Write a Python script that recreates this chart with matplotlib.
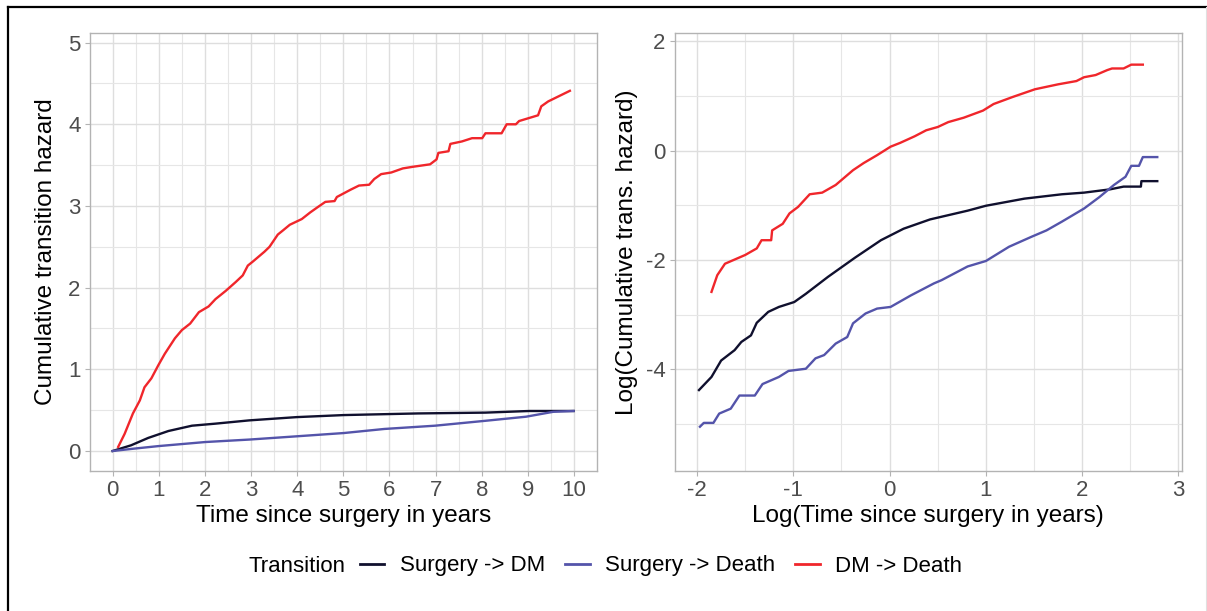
import numpy as np
import matplotlib
matplotlib.use("Agg")
import matplotlib.pyplot as plt
from matplotlib.lines import Line2D

plt.rcParams['font.family'] = ['Liberation Sans', 'DejaVu Sans']
plt.rcParams['axes.unicode_minus'] = False

## Data ##
labels = ["Surgery -> DM", "Surgery -> Death", "DM -> Death"]
colors = ["#10102e", "#5454aa", "#f0262b"]

# left panel: cumulative transition hazard vs time (years)
dm_t = [0, 0.40, 0.77, 1.21, 1.72, 2.23, 2.96, 3.99, 5.01, 6.62, 8.08, 9.03, 9.99]
dm_h = [0, 0.07, 0.16, 0.245, 0.31, 0.335, 0.375, 0.415, 0.44, 0.46, 0.47, 0.49, 0.49]

death_t = [0, 0.48, 0.99, 2.01, 2.96, 3.99, 5.01, 5.89, 6.99, 8.08, 8.96, 9.55, 9.99]
death_h = [0, 0.03, 0.06, 0.11, 0.14, 0.18, 0.22, 0.27, 0.31, 0.37, 0.42, 0.48, 0.49]

dmd_t = [0.12, 0.26, 0.44, 0.59, 0.69, 0.84, 0.99, 1.13, 1.35, 1.50, 1.68, 1.87,
         2.08, 2.23, 2.45, 2.67, 2.82, 2.93, 3.04, 3.29, 3.40, 3.58, 3.69, 3.84,
         4.10, 4.28, 4.43, 4.61, 4.81, 4.86, 5.16, 5.34, 5.56, 5.67, 5.82, 6.04,
         6.29, 6.51, 6.88, 7.02, 7.06, 7.28, 7.32, 7.57, 7.79, 8.01, 8.08, 8.43,
         8.54, 8.74, 8.81, 9.22, 9.29, 9.44, 9.91]
dmd_h = [0.05, 0.21, 0.46, 0.62, 0.78, 0.89, 1.05, 1.19, 1.38, 1.48, 1.56, 1.70,
         1.77, 1.86, 1.96, 2.07, 2.15, 2.27, 2.32, 2.44, 2.50, 2.65, 2.70, 2.77,
         2.84, 2.92, 2.98, 3.05, 3.06, 3.11, 3.20, 3.25, 3.26, 3.33, 3.39, 3.41,
         3.46, 3.48, 3.51, 3.57, 3.65, 3.67, 3.76, 3.79, 3.83, 3.83, 3.89, 3.89,
         4.00, 4.00, 4.04, 4.11, 4.22, 4.28, 4.41]

# right panel: log cumulative hazard vs log time
log_dm_t = [-1.98, -1.85, -1.75, -1.61, -1.54, -1.44, -1.38, -1.26, -1.15, -0.99,
            -0.87, -0.64, -0.36, -0.09, 0.145, 0.42, 0.81, 1.00, 1.40, 1.79,
            2.02, 2.29, 2.43, 2.61, 2.615, 2.78]
log_dm_h = [-4.38, -4.14, -3.84, -3.65, -3.50, -3.38, -3.15, -2.95, -2.86, -2.77,
            -2.62, -2.31, -1.96, -1.64, -1.43, -1.26, -1.10, -1.01, -0.88, -0.80,
            -0.77, -0.71, -0.66, -0.66, -0.56, -0.56]

log_death_t = [-1.97, -1.93, -1.83, -1.77, -1.65, -1.56, -1.40, -1.32, -1.15, -1.05,
               -0.87, -0.77, -0.68, -0.56, -0.44, -0.38, -0.25, -0.13, 0.01, 0.22,
               0.46, 0.54, 0.81, 1.00, 1.24, 1.47, 1.63, 1.79, 2.02, 2.18,
               2.33, 2.45, 2.51, 2.59, 2.63, 2.78]
log_death_h = [-5.05, -4.98, -4.98, -4.81, -4.72, -4.48, -4.48, -4.27, -4.14, -4.03,
               -3.99, -3.80, -3.74, -3.53, -3.41, -3.16, -2.98, -2.89, -2.86, -2.65,
               -2.43, -2.37, -2.12, -2.02, -1.76, -1.58, -1.46, -1.30, -1.06, -0.85,
               -0.63, -0.48, -0.28, -0.28, -0.12, -0.12]

log_dmd_t = [-1.85, -1.79, -1.71, -1.50, -1.38, -1.33, -1.23, -1.22, -1.11, -1.04,
             -0.95, -0.83, -0.70, -0.56, -0.48, -0.38, -0.27, -0.13, 0.01, 0.11,
             0.26, 0.38, 0.50, 0.61, 0.77, 0.97, 1.08, 1.28, 1.51, 1.75,
             1.94, 2.02, 2.14, 2.26, 2.31, 2.43, 2.51, 2.63]
log_dmd_h = [-2.585, -2.28, -2.07, -1.91, -1.79, -1.64, -1.64, -1.46, -1.34, -1.15,
             -1.03, -0.80, -0.77, -0.63, -0.51, -0.36, -0.23, -0.085, 0.07, 0.14,
             0.26, 0.37, 0.43, 0.52, 0.60, 0.73, 0.85, 0.98, 1.12, 1.21,
             1.27, 1.34, 1.38, 1.47, 1.50, 1.50, 1.57, 1.57]

left_series = [(dm_t, dm_h), (death_t, death_h), (dmd_t, dmd_h)]
right_series = [(log_dm_t, log_dm_h), (log_death_t, log_death_h), (log_dmd_t, log_dmd_h)]

## Styling helper ##
def style_axes(ax, xmajor, ymajor, xminor, yminor):
    ax.set_xticks(xmajor)
    ax.set_yticks(ymajor)
    ax.set_xticks(xminor, minor=True)
    ax.set_yticks(yminor, minor=True)
    ax.grid(True, which='major', color='#dedede', lw=1.0, zorder=0)
    ax.grid(True, which='minor', color='#e6e6e6', lw=0.8, zorder=0)
    ax.set_axisbelow(True)
    for s in ax.spines.values():
        s.set_color('#b3b3b3')
        s.set_linewidth(1.0)
    ax.tick_params(which='major', length=3.5, width=0.8, color='#b3b3b3',
                   labelsize=16, labelcolor='#4d4d4d', pad=3)
    ax.tick_params(which='minor', length=0)

## Figure ##
fig = plt.figure(figsize=(12.07, 6.11), dpi=100)

ax1 = fig.add_axes([0.0742, 0.2291, 0.4205, 0.7172])
for (t, h), c in zip(left_series, colors):
    ax1.plot(t, h, color=c, lw=1.7, zorder=3)
ax1.set_xlim(-0.5, 10.5)
ax1.set_ylim(-0.245, 5.12)
style_axes(ax1, range(0, 11), range(0, 6),
           np.arange(0.5, 10.5, 1), np.arange(0.5, 5.5, 1))
ax1.set_xlabel("Time since surgery in years", fontsize=17.5, labelpad=3)
ax1.set_ylabel("Cumulative transition hazard", fontsize=17.5, labelpad=8)

ax2 = fig.add_axes([0.5590, 0.2291, 0.4203, 0.7172])
for (t, h), c in zip(right_series, colors):
    ax2.plot(t, h, color=c, lw=1.7, zorder=3)
ax2.set_xlim(-2.232, 3.037)
ax2.set_ylim(-5.86, 2.152)
style_axes(ax2, range(-2, 4), [-4, -2, 0, 2],
           np.arange(-1.5, 3.0, 1), [-5, -3, -1, 1])
ax2.set_xlabel("Log(Time since surgery in years)", fontsize=17.5, labelpad=3)
ax2.set_ylabel("Log(Cumulative trans. hazard)", fontsize=17.5, labelpad=6)

## Legend ##
handles = [Line2D([0], [0], color=c, lw=2.0) for c in colors]
ly = 1 - 566 / 611
fig.text(249 / 1207, ly, "Transition", fontsize=16, va='center', ha='left')
fig.legend(handles, labels, loc='center left', bbox_to_anchor=(360 / 1207, ly),
           ncol=3, frameon=False, fontsize=16, handlelength=1.1,
           handletextpad=0.7, columnspacing=0.9, borderpad=0, borderaxespad=0)

## Outer border ##
fig.add_artist(Line2D([8 / 1207, 8 / 1207], [0, 1 - 7 / 611],
                      transform=fig.transFigure, color='black', lw=1.6))
fig.add_artist(Line2D([8 / 1207, 1], [1 - 7 / 611, 1 - 7 / 611],
                      transform=fig.transFigure, color='black', lw=1.6))
fig.add_artist(Line2D([1206 / 1207, 1206 / 1207], [0, 1 - 7 / 611],
                      transform=fig.transFigure, color='#e0e0e0', lw=0.8))

fig.savefig("out.png", dpi=100)
